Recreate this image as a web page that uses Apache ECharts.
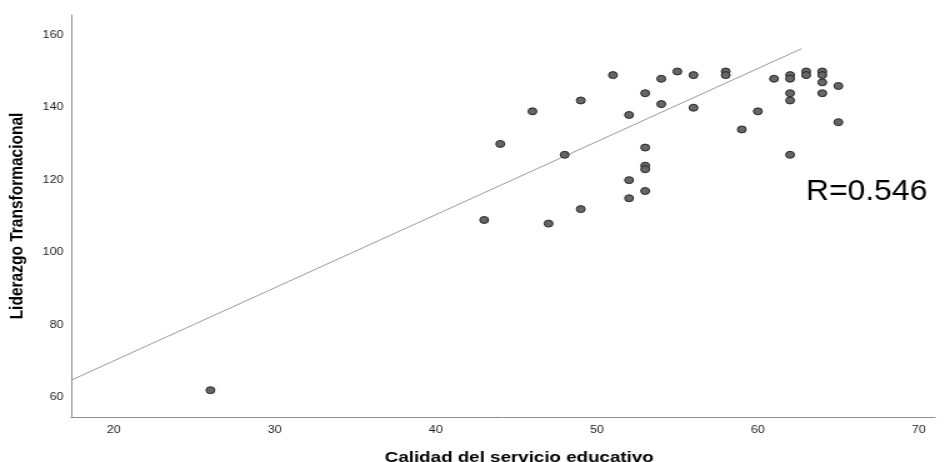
<!DOCTYPE html>
<html>
<head>
<meta charset="utf-8">
<script src="https://cdn.jsdelivr.net/npm/echarts@6/dist/echarts.min.js"></script>
<style>
  html, body { margin: 0; padding: 0; background: #fff; overflow: hidden; }
  /* the source picture is a horizontally stretched export, so stretch ours the same way */
  #chart { width: 760px; height: 462px; transform: scaleX(1.25); transform-origin: 0 0; }
</style>
</head>
<body>
<div id="chart"></div>
<script>
// Calidad del servicio educativo (x) vs Liderazgo Transformacional (y)
const calidad = [26, 43, 44, 46, 47, 48, 49, 49, 51, 52, 52, 52, 53, 53, 53, 53, 53, 54, 54, 55,
  56, 56, 58, 58, 59, 60, 61, 62, 62, 62, 62, 62, 63, 63, 64, 64, 64, 64, 65, 65];
const liderazgo = [62, 109, 130, 139, 108, 127, 142, 112, 149, 138, 120, 115, 144, 129, 124, 123, 117, 148, 141, 150,
  149, 140, 150, 149, 134, 139, 148, 149, 148, 144, 142, 127, 150, 149, 150, 149, 147, 144, 146, 136];

const xTicks = [20, 30, 40, 50, 60, 70];
const yTicks = [60, 80, 100, 120, 140, 160];
const xRange = [17.34, 71];
const yRange = [54.6, 165.6];

// fit line as drawn in the picture
const fitIntercept = 29.75;
const fitSlope = 2.018;
const fitEndX = 62.7;
const rLabel = 'R=0.546';

const points = calidad.map((x, i) => [x, liderazgo[i]]);
const fitLine = [xRange[0], fitEndX].map(x => [x, fitIntercept + fitSlope * x]);

const chart = echarts.init(document.getElementById('chart'));
const font = 'Liberation Sans, Arial, sans-serif';

chart.setOption({
  animation: false,
  textStyle: { fontFamily: font },
  grid: { left: 56.8, right: 12, top: 15, bottom: 45, outerBoundsMode: 'none' },
  xAxis: {
    type: 'value',
    min: xRange[0],
    max: xRange[1],
    name: 'Calidad del servicio educativo',
    nameLocation: 'middle',
    nameGap: 33,
    nameTextStyle: { fontSize: 15, fontWeight: 'bold', color: '#000', padding: [0, 0, 0, 26] },
    axisLine: { lineStyle: { color: '#8c8c8c', width: 1 } },
    axisTick: { show: false },
    splitLine: { show: false },
    axisLabel: { customValues: xTicks, fontSize: 10, color: '#222', margin: 8 }
  },
  yAxis: {
    type: 'value',
    min: yRange[0],
    max: yRange[1],
    name: 'Liderazgo Transformacional',
    nameLocation: 'middle',
    nameGap: 35,
    nameTextStyle: { fontSize: 15.5, fontWeight: 'bold', color: '#000' },
    axisLine: { show: true, lineStyle: { color: '#8c8c8c', width: 1 } },
    axisTick: { show: false },
    splitLine: { show: false },
    axisLabel: { customValues: yTicks, fontSize: 10, color: '#222', margin: 6 }
  },
  graphic: [{
    type: 'text',
    x: 644.8,
    y: 192,
    scaleX: 0.85,
    style: { text: rLabel, fontSize: 30, fontFamily: font, fill: '#000', align: 'left', verticalAlign: 'middle' }
  }],
  series: [
    {
      type: 'line',
      data: fitLine,
      showSymbol: false,
      silent: true,
      lineStyle: { color: '#9a9a9a', width: 1 },
      z: 1
    },
    {
      type: 'scatter',
      data: points,
      symbol: 'circle',
      symbolSize: 7,
      itemStyle: { color: '#666', borderColor: '#262626', borderWidth: 1, opacity: 1 },
      z: 2
    }
  ]
});
</script>
</body>
</html>
